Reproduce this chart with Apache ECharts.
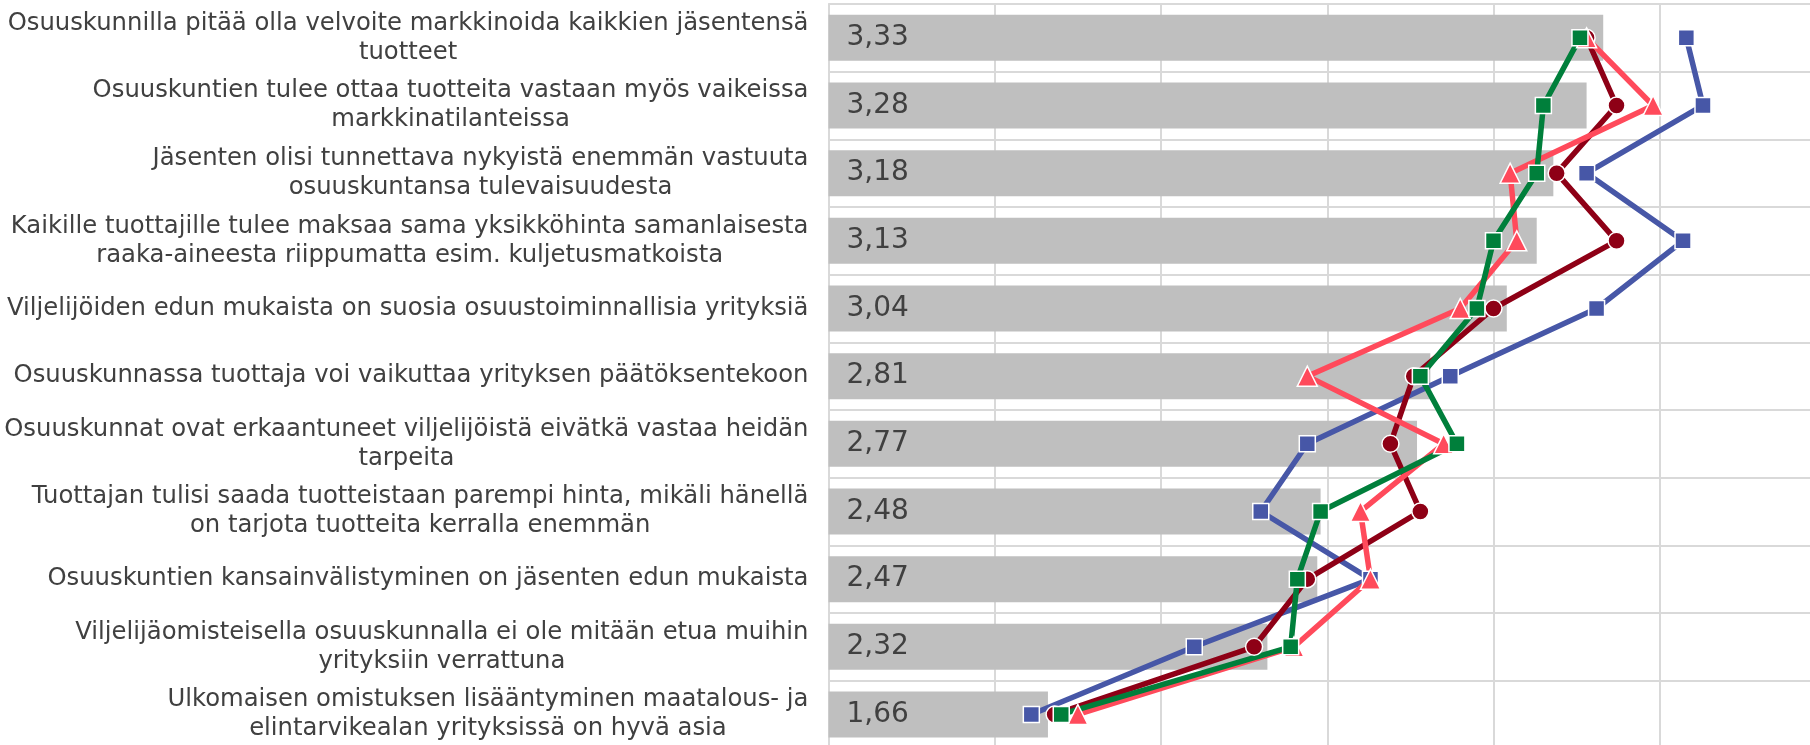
<!DOCTYPE html>
<html>
<head>
<meta charset="utf-8">
<script src="https://cdn.jsdelivr.net/npm/echarts@6/dist/echarts.min.js"></script>
<style>
  html, body { margin: 0; padding: 0; background: #ffffff; }
  #chart { width: 1810px; height: 745px; }
</style>
</head>
<body>
<div id="chart"></div>
<script>
const categories = [
  "Osuuskunnilla pitää olla velvoite markkinoida kaikkien jäsentensä\ntuotteet",
  "Osuuskuntien tulee ottaa tuotteita vastaan myös vaikeissa\nmarkkinatilanteissa",
  "Jäsenten olisi tunnettava nykyistä enemmän vastuuta\nosuuskuntansa tulevaisuudesta",
  "Kaikille tuottajille tulee maksaa sama yksikköhinta samanlaisesta\nraaka-aineesta riippumatta esim. kuljetusmatkoista",
  "Viljelijöiden edun mukaista on suosia osuustoiminnallisia yrityksiä",
  "Osuuskunnassa tuottaja voi vaikuttaa yrityksen päätöksentekoon",
  "Osuuskunnat ovat erkaantuneet viljelijöistä eivätkä vastaa heidän\ntarpeita",
  "Tuottajan tulisi saada tuotteistaan parempi hinta, mikäli hänellä\non tarjota tuotteita kerralla enemmän",
  "Osuuskuntien kansainvälistyminen on jäsenten edun mukaista",
  "Viljelijäomisteisella osuuskunnalla ei ole mitään etua muihin\nyrityksiin verrattuna",
  "Ulkomaisen omistuksen lisääntyminen maatalous- ja\nelintarvikealan yrityksissä on hyvä asia"
];
const barValues   = [3.33, 3.28, 3.18, 3.13, 3.04, 2.81, 2.77, 2.48, 2.47, 2.32, 1.66];
const blueValues  = [3.58, 3.63, 3.28, 3.57, 3.31, 2.87, 2.44, 2.30, 2.63, 2.10, 1.61];
const redValues   = [3.28, 3.37, 3.19, 3.37, 3.00, 2.76, 2.69, 2.78, 2.44, 2.28, 1.68];
const pinkValues  = [3.28, 3.48, 3.05, 3.07, 2.90, 2.44, 2.85, 2.60, 2.63, 2.40, 1.75];
const greenValues = [3.26, 3.15, 3.13, 3.00, 2.95, 2.78, 2.89, 2.48, 2.41, 2.39, 1.70];
const axisMin = 1, axisMax = 4, axisStep = 0.5;

const chart = echarts.init(document.getElementById('chart'), null, { renderer: 'canvas' });

function lineSeries(name, data, color, symbol, size) {
  return {
    name: name,
    type: 'line',
    data: data,
    symbol: symbol,
    symbolSize: size,
    showAllSymbol: true,
    lineStyle: { color: color, width: 5.5 },
    itemStyle: { color: color, borderColor: '#ffffff', borderWidth: 1.5 },
    emphasis: { disabled: true },
    animation: false
  };
}

const option = {
  animation: false,
  backgroundColor: '#ffffff',
  grid: { left: 828.5, top: 4, width: 997.5, height: 744.3, containLabel: false, outerBoundsMode: 'none' },
  xAxis: {
    type: 'value',
    min: axisMin, max: axisMax, interval: axisStep,
    axisLabel: { show: false },
    axisLine: { show: false },
    axisTick: { show: false },
    splitLine: { show: true, lineStyle: { color: '#d9d9d9', width: 2 } }
  },
  yAxis: {
    type: 'category',
    inverse: true,
    data: categories,
    axisLine: { show: true, lineStyle: { color: '#d9d9d9', width: 2 } },
    axisTick: { show: false },
    splitLine: { show: true, interval: 0, lineStyle: { color: '#d9d9d9', width: 2 } },
    axisLabel: {
      interval: 0,
      margin: 20,
      formatter: function (v) {
        return v.split('\n').map(function (s) { return '{c|' + s + '}'; }).join('\n');
      },
      rich: {
        c: {
          align: 'center',
          fontFamily: 'DejaVu Sans',
          fontSize: 24.3,
          lineHeight: 29,
          color: '#404040'
        }
      }
    }
  },
  series: [
    {
      name: 'Keskiarvo',
      type: 'bar',
      data: barValues,
      barWidth: '68%',
      itemStyle: { color: '#bfbfbf' },
      label: {
        show: true,
        position: 'insideLeft',
        distance: 18,
        fontFamily: 'DejaVu Sans',
        fontSize: 28,
        color: '#404040',
        formatter: function (p) { return p.value.toFixed(2).replace('.', ','); }
      },
      emphasis: { disabled: true }
    },
    lineSeries('A', blueValues, '#4757a7', 'rect', 16),
    lineSeries('B', redValues, '#8e0016', 'circle', 17),
    lineSeries('C', pinkValues, '#ff4a5b', 'triangle', 20),
    lineSeries('D', greenValues, '#007f3b', 'rect', 16)
  ]
};
chart.setOption(option);
</script>
</body>
</html>
